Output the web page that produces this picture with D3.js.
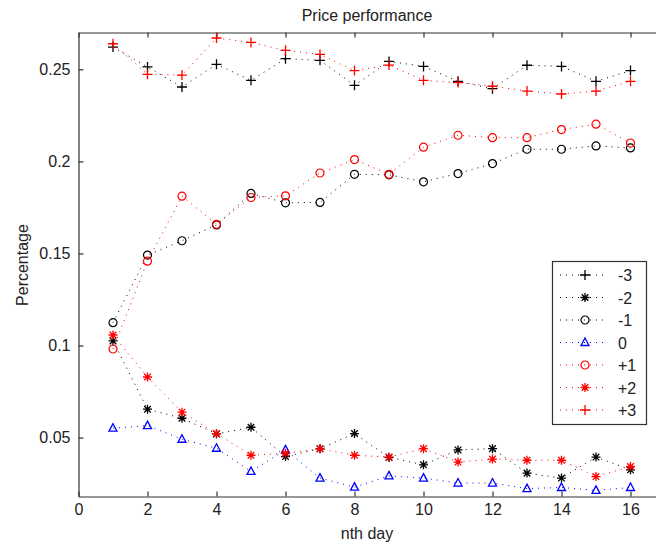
<!DOCTYPE html>
<html>
<head>
<meta charset="utf-8">
<script src="https://cdn.jsdelivr.net/npm/d3@7"></script>
<style>
  html, body { margin: 0; padding: 0; background: #fff; }
  svg { display: block; }
  text { font-family: "Liberation Sans", Arial, sans-serif; fill: #222; }
</style>
</head>
<body>
<svg id="chart" width="656" height="547"></svg>
<script>
// Day index on the x axis
const days = [1, 2, 3, 4, 5, 6, 7, 8, 9, 10, 11, 12, 13, 14, 15, 16];

// Share of price moves per offset group, by day
const minus3 = [0.2621, 0.2513, 0.2404, 0.2527, 0.2440, 0.2558, 0.2549, 0.2413, 0.2543, 0.2516, 0.2435, 0.2395, 0.2522, 0.2516, 0.2435, 0.2493];
const minus2 = [0.1025, 0.0654, 0.0605, 0.0520, 0.0556, 0.0397, 0.0439, 0.0522, 0.0392, 0.0352, 0.0433, 0.0440, 0.0307, 0.0280, 0.0394, 0.0325];
const minus1 = [0.1124, 0.1491, 0.1569, 0.1655, 0.1826, 0.1775, 0.1777, 0.1930, 0.1927, 0.1889, 0.1934, 0.1988, 0.2066, 0.2066, 0.2084, 0.2073];
const zero   = [0.0551, 0.0565, 0.0491, 0.0442, 0.0316, 0.0433, 0.0280, 0.0231, 0.0292, 0.0280, 0.0253, 0.0253, 0.0223, 0.0229, 0.0213, 0.0229];
const plus1  = [0.0981, 0.1458, 0.1811, 0.1658, 0.1804, 0.1813, 0.1937, 0.2010, 0.1930, 0.2077, 0.2142, 0.2129, 0.2129, 0.2173, 0.2202, 0.2100];
const plus2  = [0.1057, 0.0829, 0.0638, 0.0522, 0.0404, 0.0415, 0.0439, 0.0404, 0.0394, 0.0440, 0.0367, 0.0383, 0.0377, 0.0377, 0.0288, 0.0343];
const plus3  = [0.2639, 0.2473, 0.2469, 0.2670, 0.2646, 0.2603, 0.2581, 0.2493, 0.2523, 0.2440, 0.2428, 0.2408, 0.2382, 0.2366, 0.2382, 0.2435];

const seriesNames = ["-3", "-2", "-1", "0", "+1", "+2", "+3"];
const seriesValues = [minus3, minus2, minus1, zero, plus1, plus2, plus3];
const seriesColors = ["#000000", "#000000", "#000000", "#0000ff", "#ff0000", "#ff0000", "#ff0000"];
const seriesMarkers = ["plus", "star", "circle", "triangle", "circle", "star", "plus"];

const xTicks = [0, 2, 4, 6, 8, 10, 12, 14, 16];
const yTicks = [0.05, 0.1, 0.15, 0.2, 0.25];
const yTickLabels = ["0.05", "0.1", "0.15", "0.2", "0.25"];

const titleText = "Price performance";
const xLabelText = "nth day";
const yLabelText = "Percentage";

const svg = d3.select("#chart");

const plotLeft = 78.5, plotTop = 32.5, plotBottom = 496.5;
const x = d3.scaleLinear().domain([0, 18]).range([plotLeft, plotLeft + 18 * 34.5]);
const y = d3.scaleLinear().domain([0.018, 0.27]).range([plotBottom, plotTop]);

const axisColor = "#333";
const fontSize = 16;

// Axes with inward ticks (bottom, top and left sides of the box)
const gx = svg.append("g").attr("transform", `translate(0,${plotBottom})`)
  .call(d3.axisBottom(x).tickValues(xTicks).tickSizeInner(-5).tickSizeOuter(0).tickPadding(7).tickFormat(d3.format("d")));
const gxTop = svg.append("g").attr("transform", `translate(0,${plotTop})`)
  .call(d3.axisTop(x).tickValues(xTicks).tickSizeInner(-5).tickSizeOuter(0).tickFormat(""));
const gy = svg.append("g").attr("transform", `translate(${plotLeft},0)`)
  .call(d3.axisLeft(y).tickValues(yTicks).tickSizeInner(-5).tickSizeOuter(0).tickPadding(8)
    .tickFormat((d, i) => yTickLabels[i]));

[gx, gxTop, gy].forEach(g => {
  g.select(".domain").attr("stroke", axisColor).attr("stroke-width", 1.2);
  g.selectAll(".tick line").attr("stroke", axisColor).attr("stroke-width", 1.2);
  g.selectAll(".tick text").attr("font-size", fontSize).attr("fill", "#222")
    .attr("font-family", "Liberation Sans, Arial, sans-serif");
});

// Marker shapes
function drawMarker(g, kind, color) {
  if (kind === "plus") {
    g.append("path").attr("d", "M-5,0H5M0,-5V5")
      .attr("stroke", color).attr("stroke-width", 1.3).attr("fill", "none");
  } else if (kind === "star") {
    g.append("path").attr("d", "M-4.5,0H4.5M0,-4.5V4.5M-3.3,-3.3L3.3,3.3M-3.3,3.3L3.3,-3.3")
      .attr("stroke", color).attr("stroke-width", 1.3).attr("fill", "none");
  } else if (kind === "circle") {
    g.append("circle").attr("r", 4)
      .attr("stroke", color).attr("stroke-width", 1.2).attr("fill", "none");
  } else if (kind === "triangle") {
    g.append("path").attr("d", "M0,-4.5L4,3L-4,3Z")
      .attr("stroke", color).attr("stroke-width", 1.3).attr("fill", "none");
  }
}

const line = d3.line().x((d, i) => x(days[i])).y(d => y(d));

const plotLayer = svg.append("g");
seriesValues.forEach((vals, s) => {
  const g = plotLayer.append("g");
  g.append("path").datum(vals)
    .attr("d", line)
    .attr("fill", "none")
    .attr("stroke", seriesColors[s])
    .attr("stroke-width", 1)
    .attr("stroke-dasharray", "1 5");
  vals.forEach((v, i) => {
    const m = g.append("g").attr("transform", `translate(${x(days[i])},${y(v)})`);
    drawMarker(m, seriesMarkers[s], seriesColors[s]);
  });
});

// Title and axis labels
svg.append("text").attr("x", 367).attr("y", 21).attr("text-anchor", "middle")
  .attr("font-size", fontSize).text(titleText);
svg.append("text").attr("x", 367).attr("y", 539).attr("text-anchor", "middle")
  .attr("font-size", fontSize).text(xLabelText);
svg.append("text").attr("transform", "translate(28,265) rotate(-90)").attr("text-anchor", "middle")
  .attr("font-size", fontSize).text(yLabelText);

// Legend
const legend = svg.append("g").attr("transform", "translate(552,261)");
legend.append("rect").attr("x", 0.5).attr("y", 0.5).attr("width", 94).attr("height", 163)
  .attr("fill", "#fff").attr("stroke", axisColor).attr("stroke-width", 1.2);
seriesNames.forEach((name, s) => {
  const row = legend.append("g").attr("transform", `translate(0,${14 + s * 22.5})`);
  row.append("line").attr("x1", 8).attr("x2", 56).attr("y1", 0).attr("y2", 0)
    .attr("stroke", seriesColors[s]).attr("stroke-width", 1).attr("stroke-dasharray", "1 5");
  const m = row.append("g").attr("transform", "translate(33,0)");
  drawMarker(m, seriesMarkers[s], seriesColors[s]);
  row.append("text").attr("x", 66).attr("y", 6).attr("font-size", fontSize).text(name);
});
</script>
</body>
</html>
